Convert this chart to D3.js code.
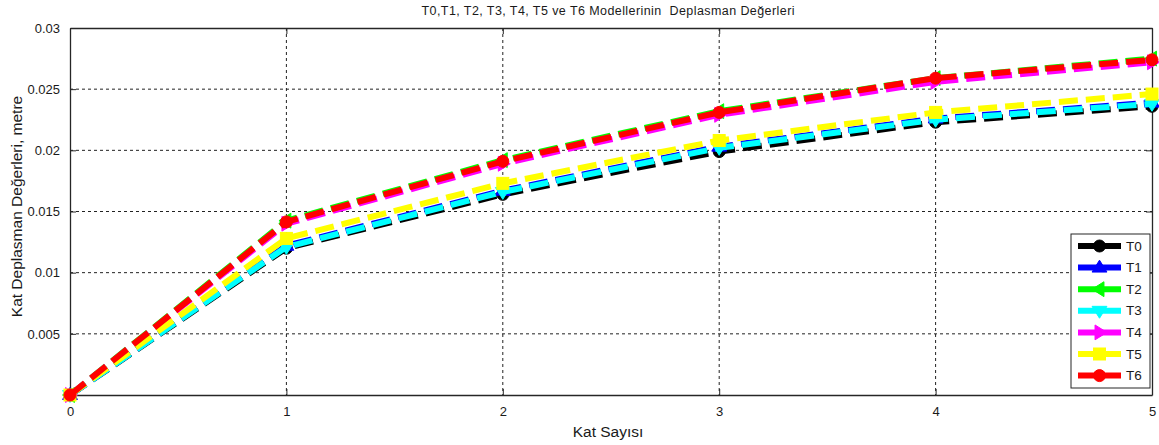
<!DOCTYPE html>
<html>
<head>
<meta charset="utf-8">
<script src="https://cdn.jsdelivr.net/npm/d3@7"></script>
<style>
  body { margin: 0; background: #fff; }
  text { font-family: "Liberation Sans", Arial, sans-serif; fill: #1a1a1a; }
</style>
</head>
<body>
<script>
// floor numbers (Kat Sayısı)
const floors = [0, 1, 2, 3, 4, 5];
const yTicks = [0, 0.005, 0.01, 0.015, 0.02, 0.025, 0.03];
const yTickLabels = ["", "0.005", "0.01", "0.015", "0.02", "0.025", "0.03"];

// displacement values, metre
const T0 = [0, 0.0120, 0.0164, 0.0199, 0.0223, 0.0236];
const T1 = [0, 0.0122, 0.0167, 0.0203, 0.0226, 0.0239];
const T2 = [0, 0.01425, 0.0192, 0.0232, 0.0259, 0.0275];
const T3 = [0, 0.0121, 0.0166, 0.0202, 0.0225, 0.0238];
const T4 = [0, 0.0140, 0.0189, 0.0229, 0.0256, 0.0272];
const T5 = [0, 0.0128, 0.0173, 0.0208, 0.0231, 0.0246];
const T6 = [0, 0.01415, 0.0191, 0.0231, 0.0259, 0.0274];

const seriesNames = ["T0", "T1", "T2", "T3", "T4", "T5", "T6"];
const seriesValues = [T0, T1, T2, T3, T4, T5, T6];
const seriesColors = ["#000000", "#0000ff", "#00ff00", "#00ffff", "#ff00ff", "#ffff00", "#ff0000"];
const seriesMarkers = ["circle", "up", "left", "down", "right", "square", "circle"];

const W = 1159, H = 445;
let margin = {top: 28, right: 7, bottom: 50, left: 70};
let width = W - margin.left - margin.right,
    height = H - margin.top - margin.bottom;

let svg = d3.select("body").append("svg")
  .attr("width", W).attr("height", H);

let g = svg.append("g")
  .attr("transform", "translate(" + margin.left + "," + margin.top + ")");

let x = d3.scaleLinear().domain([0, 5]).range([0, width]);
let y = d3.scaleLinear().domain([0, 0.03]).range([height, 0]);

// grid lines
g.selectAll(".gx").data(floors.slice(1, -1)).enter().append("line")
  .attr("x1", d => x(d)).attr("x2", d => x(d))
  .attr("y1", 0).attr("y2", height)
  .attr("stroke", "#222").attr("stroke-width", 1)
  .attr("stroke-dasharray", "3,3");
g.selectAll(".gy").data(yTicks.slice(1, -1)).enter().append("line")
  .attr("x1", 0).attr("x2", width)
  .attr("y1", d => y(d)).attr("y2", d => y(d))
  .attr("stroke", "#222").attr("stroke-width", 1)
  .attr("stroke-dasharray", "3,3");

// axes (MATLAB box with inward ticks)
let axisColor = "#262626";
let xb = g.append("g").attr("transform", "translate(0," + height + ")")
  .call(d3.axisBottom(x).tickValues(floors).tickSizeInner(-6).tickSizeOuter(0).tickPadding(12).tickFormat(d3.format("d")));
let xt = g.append("g")
  .call(d3.axisTop(x).tickValues(floors).tickSizeInner(-6).tickSizeOuter(0).tickFormat(""));
let yl = g.append("g")
  .call(d3.axisLeft(y).tickValues(yTicks).tickSizeInner(-6).tickSizeOuter(0).tickPadding(10)
    .tickFormat((d, i) => yTickLabels[i]));
let yr = g.append("g").attr("transform", "translate(" + width + ",0)")
  .call(d3.axisRight(y).tickValues(yTicks).tickSizeInner(-6).tickSizeOuter(0).tickFormat(""));

[xb, xt, yl, yr].forEach(a => {
  a.select(".domain").attr("stroke", axisColor).attr("stroke-width", 1.3);
  a.selectAll(".tick line").attr("stroke", axisColor);
  a.selectAll("text").style("font-size", "13px")
    .style("font-family", "'Liberation Sans', Arial, sans-serif").attr("fill", "#1a1a1a");
});

// marker drawing
function drawMarker(sel, type, color, s) {
  if (type === "circle") {
    sel.append("circle").attr("r", s * 0.5).attr("fill", color).attr("stroke", color);
  } else if (type === "square") {
    sel.append("rect").attr("x", -s / 2).attr("y", -s / 2).attr("width", s).attr("height", s)
      .attr("fill", color).attr("stroke", color);
  } else {
    let r = s * 0.62;
    let pts = {
      up: [[0, -r], [r, r * 0.6], [-r, r * 0.6]],
      down: [[0, r], [r, -r * 0.6], [-r, -r * 0.6]],
      left: [[-r, 0], [r * 0.6, -r], [r * 0.6, r]],
      right: [[r, 0], [-r * 0.6, -r], [-r * 0.6, r]]
    }[type];
    sel.append("polygon").attr("points", pts.map(p => p.join(",")).join(" "))
      .attr("fill", color).attr("stroke", color);
  }
}

let line = d3.line().x((d, i) => x(floors[i])).y(d => y(d));

seriesValues.forEach((vals, k) => {
  g.append("path").datum(vals)
    .attr("d", line)
    .attr("fill", "none")
    .attr("stroke", seriesColors[k])
    .attr("stroke-width", 6)
    .attr("stroke-dasharray", "19,8");
  vals.forEach((v, i) => {
    let m = g.append("g").attr("transform", "translate(" + x(floors[i]) + "," + y(v) + ")");
    drawMarker(m, seriesMarkers[k], seriesColors[k], 12);
  });
});

// legend
let lg = svg.append("g").attr("transform", "translate(1071,234)");
lg.append("rect").attr("x", 0).attr("y", 0).attr("width", 79).attr("height", 154)
  .attr("fill", "#fff").attr("stroke", "#262626").attr("stroke-width", 1);
seriesNames.forEach((name, k) => {
  let yy = 12 + k * 21.6;
  lg.append("line").attr("x1", 7).attr("x2", 50).attr("y1", yy).attr("y2", yy)
    .attr("stroke", seriesColors[k]).attr("stroke-width", 6);
  let m = lg.append("g").attr("transform", "translate(28.5," + yy + ")");
  drawMarker(m, seriesMarkers[k], seriesColors[k], 12);
  lg.append("text").attr("x", 55).attr("y", yy + 4.5).text(name)
    .style("font-size", "13.5px");
});

// title and axis labels
svg.append("text")
  .attr("x", margin.left + width / 2 - 3).attr("y", 15)
  .attr("text-anchor", "middle")
  .style("font-size", "12.5px")
  .style("white-space", "pre")
  .attr("textLength", 373)
  .text("T0,T1, T2, T3, T4, T5 ve T6 Modellerinin  Deplasman Değerleri");

svg.append("text")
  .attr("x", 608).attr("y", 437)
  .attr("text-anchor", "middle")
  .style("font-size", "15.5px")
  .text("Kat Sayısı");

svg.append("text")
  .attr("transform", "translate(22," + (margin.top + height / 2 - 5) + ") rotate(-90)")
  .attr("text-anchor", "middle")
  .style("font-size", "15.5px")
  .text("Kat Deplasman Değerleri, metre");
</script>
</body>
</html>
